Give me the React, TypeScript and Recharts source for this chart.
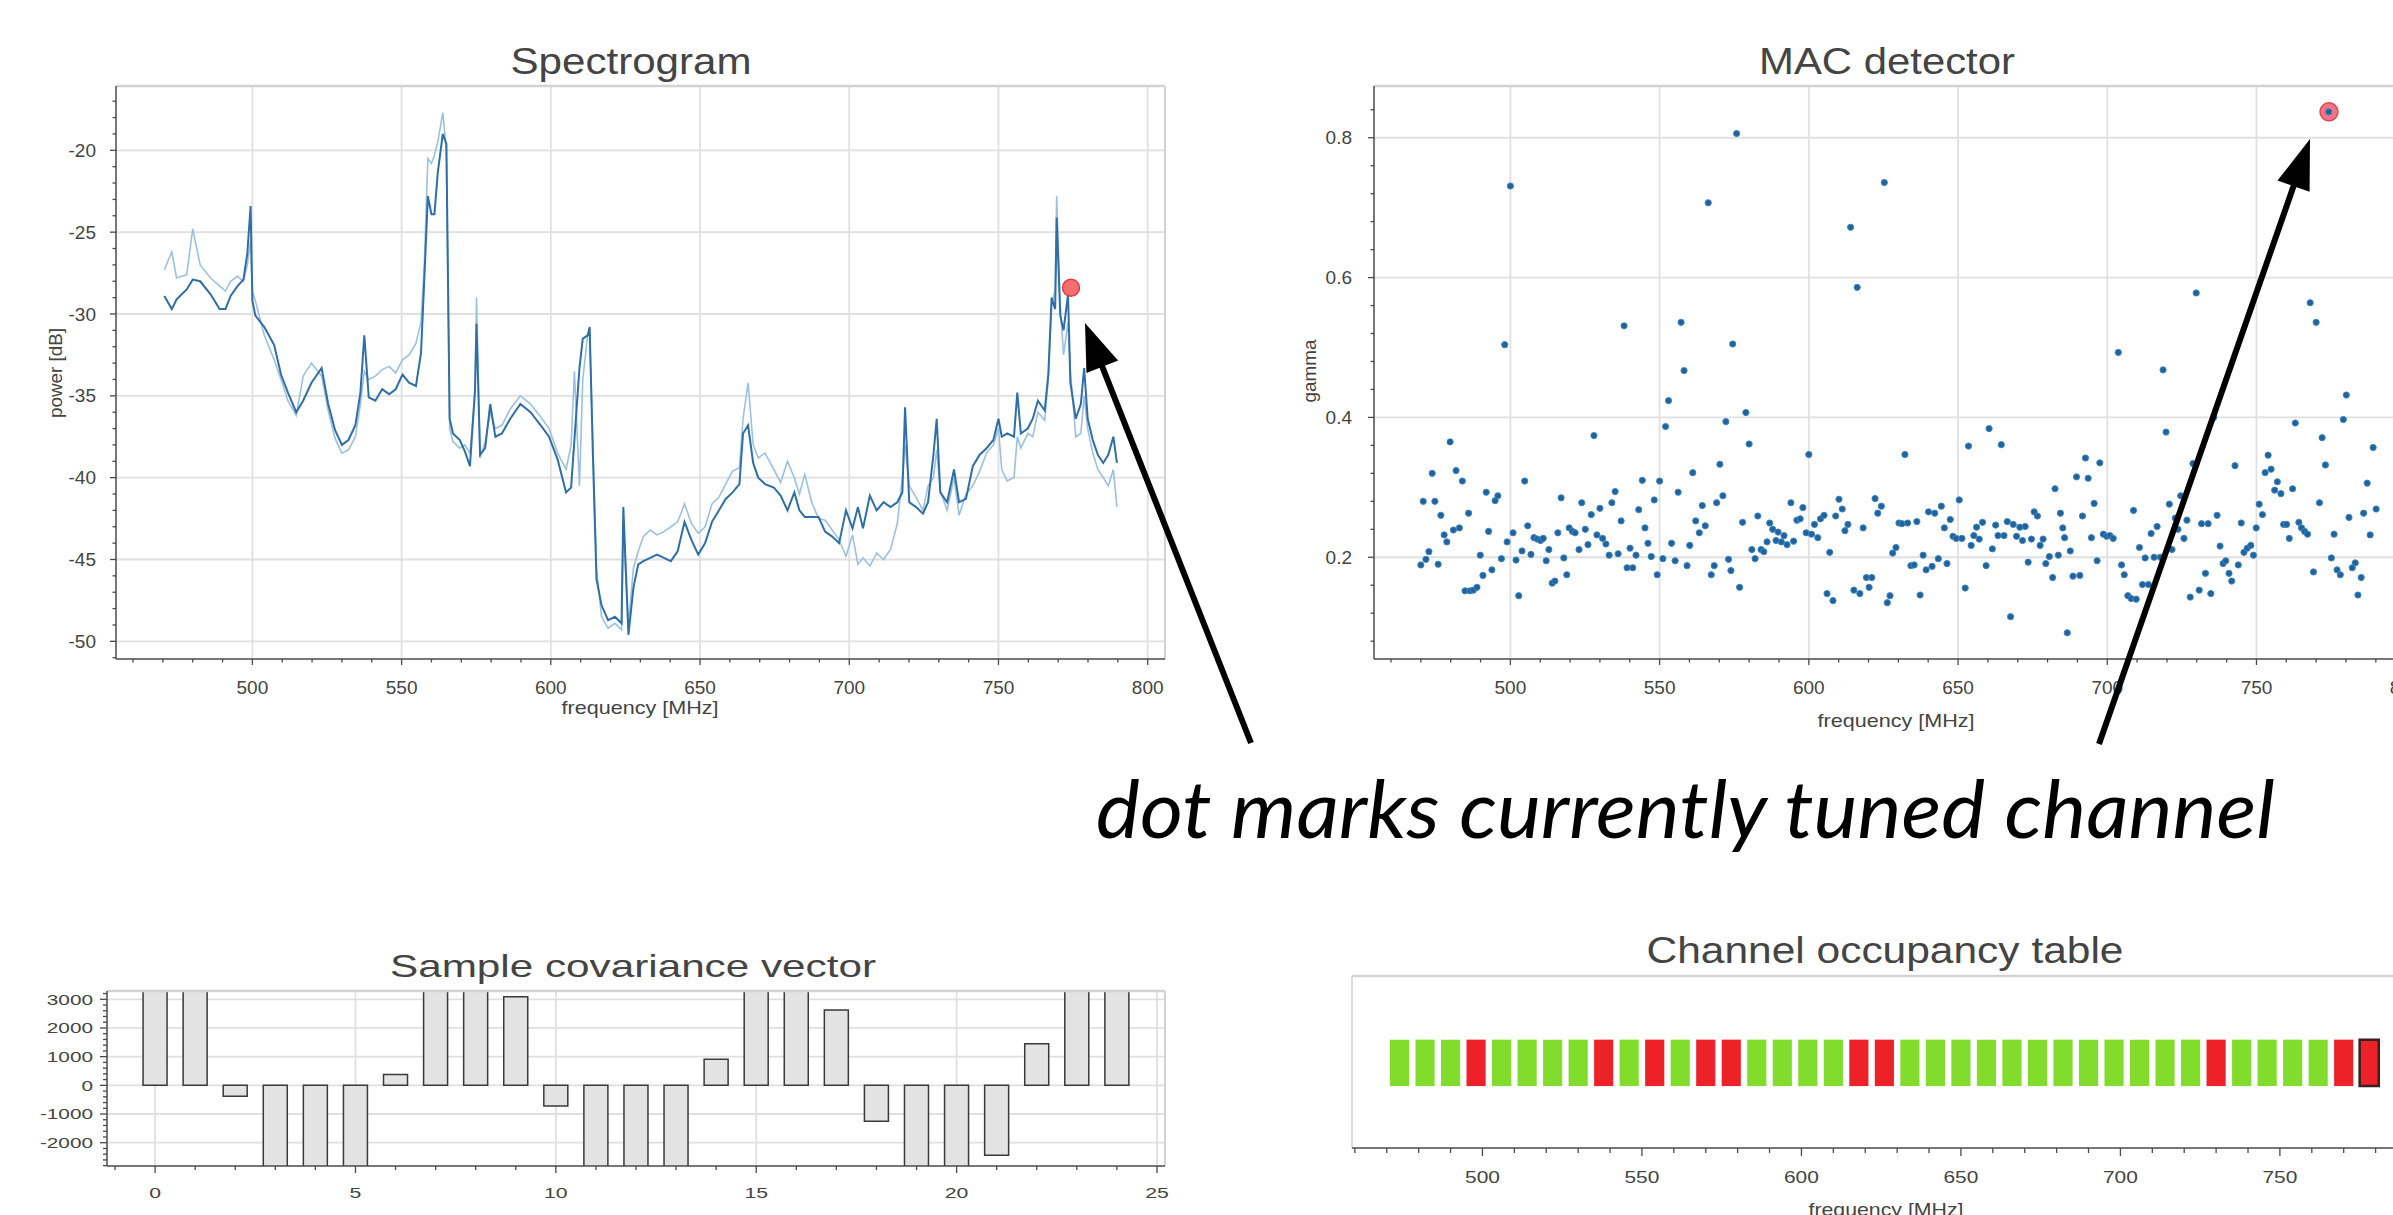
import React from 'react';
import {
  ComposedChart, ScatterChart, BarChart, Line, Scatter, Bar, XAxis, YAxis,
  ReferenceLine, ReferenceArea, CartesianGrid,
} from 'recharts';

// ---------------- DATA ----------------
// Spectrogram: frequency [MHz], current sweep and previous sweep [dB]
const specFreq = [
  470.5, 473, 474.6, 478, 480, 482.5, 486, 489, 491, 492.7,
  495, 497, 498.3, 499.4, 500, 501, 504, 507.3, 509.6, 511.9,
  514.7, 517, 519.8, 523.2, 525.4, 527.7, 530, 532.2, 534.5, 536.2,
  537.5, 539, 541.2, 543.5, 545.8, 548, 550.3, 552.5, 554.8, 556.5,
  557.6, 558.8, 560, 561, 562.1, 563.8, 565, 566.1, 567.2, 569.5,
  571.2, 572.9, 574.6, 575.1, 576.3, 578, 579.7, 581.4, 583.6, 586.4,
  589.8, 593.2, 596.6, 599.4, 602.3, 605.1, 606.8, 607.9, 609.6, 610.7,
  612.4, 613, 614.1, 615.3, 617, 619.2, 621.5, 623.7, 624.3, 626,
  627.7, 629.3, 631, 633.3, 635.6, 637.9, 640.2, 642.5, 644.8, 647.1,
  649.4, 651.7, 654, 656.3, 658.6, 660.9, 663.2, 664.4, 666.1, 667.8,
  669.5, 671.8, 674.7, 677, 679.3, 681.6, 683.3, 685.1, 687.4, 689.7,
  691.9, 694.3, 696.6, 698.9, 701.1, 702.9, 704.6, 706.9, 709.2, 711.5,
  713.8, 716.1, 717.8, 718.7, 720.1, 722.4, 724.7, 726.4, 728.2, 729.3,
  730.5, 732.8, 735.1, 736.8, 739.1, 741.4, 743.7, 746, 748.3, 750,
  751.1, 752.9, 755.2, 756.3, 757.5, 759.8, 761.5, 763.2, 765.5, 766.7,
  767.8, 769, 769.5, 770.7, 771.8, 773.3, 774.1, 775.9, 777.6, 778.7,
  779.9, 781.6, 783.3, 785.1, 786.8, 788.5, 789.7,
];
const specMain = [
  -28.9, -29.7, -29.1, -28.5, -27.9, -28.0, -28.8, -29.7, -29.7, -28.9,
  -28.3, -27.9, -26.3, -23.4, -29.2, -30.1, -30.8, -31.9, -33.7, -34.8,
  -36.0, -35.3, -34.2, -33.3, -35.5, -37.1, -38.0, -37.7, -36.8, -34.8,
  -31.3, -35.1, -35.3, -34.6, -34.9, -34.6, -33.7, -34.2, -34.4, -32.4,
  -27.9, -22.8, -23.9, -23.9, -21.4, -19.0, -19.6, -36.4, -37.3, -37.7,
  -38.4, -39.3, -34.6, -30.6, -38.6, -38.2, -35.5, -37.5, -37.3, -36.4,
  -35.5, -36.0, -36.8, -37.5, -38.9, -40.9, -40.6, -37.7, -33.3, -31.5,
  -31.3, -30.8, -38.6, -46.2, -47.8, -48.7, -48.5, -48.9, -41.8, -49.6,
  -46.7, -45.3, -45.1, -44.9, -44.7, -44.9, -45.1, -44.5, -42.7, -43.8,
  -44.7, -44.0, -42.7, -42.0, -41.3, -40.9, -40.4, -37.3, -36.8, -39.1,
  -40.0, -40.4, -40.6, -41.1, -42.0, -40.9, -42.0, -42.4, -42.4, -42.4,
  -43.3, -43.6, -44.0, -42.0, -43.1, -41.8, -43.1, -41.1, -42.0, -41.5,
  -41.8, -41.5, -40.9, -35.7, -41.5, -41.8, -42.2, -41.5, -38.6, -36.4,
  -40.9, -41.5, -39.5, -41.5, -41.3, -39.3, -38.6, -38.2, -37.7, -36.4,
  -37.5, -37.3, -37.5, -34.8, -37.3, -37.0, -36.4, -35.3, -35.9, -33.7,
  -29.0, -29.7, -24.1, -30.1, -31.0, -28.8, -34.2, -36.4, -35.5, -33.3,
  -36.4, -37.7, -38.6, -39.1, -38.6, -37.5, -39.1,
];
const specPrev = [
  -27.3, -26.2, -27.8, -27.6, -24.8, -27.0, -27.8, -28.3, -28.6, -28.0,
  -27.7, -28.0, -27.0, -25.5, -28.6, -29.2, -31.3, -32.8, -34.0, -35.3,
  -36.2, -33.8, -33.0, -33.8, -35.9, -37.6, -38.5, -38.3, -37.5, -35.5,
  -33.5, -34.0, -33.8, -33.4, -33.2, -33.6, -32.8, -32.5, -31.8, -30.5,
  -27.0, -20.5, -20.8, -20.3, -19.5, -17.7, -20.0, -37.0, -37.8, -38.2,
  -38.0, -38.5, -35.0, -29.0, -38.8, -37.8, -36.0, -37.0, -36.8, -35.8,
  -35.0, -35.5, -36.3, -37.0, -38.5, -39.5, -38.0, -33.5, -40.5, -34.0,
  -31.2, -31.0, -38.0, -45.5, -48.5, -49.2, -48.9, -49.3, -43.0, -49.0,
  -45.5, -44.5, -43.6, -43.2, -43.5, -43.3, -43.0, -42.7, -41.6, -42.8,
  -43.4, -43.0, -41.6, -41.2, -40.4, -39.6, -39.4, -36.4, -34.2, -38.0,
  -38.8, -38.5, -39.5, -40.3, -39.0, -40.0, -41.0, -39.8, -41.5, -42.5,
  -42.6, -43.2, -43.8, -44.8, -43.5, -45.3, -44.9, -45.4, -44.6, -45.0,
  -44.4, -42.8, -40.0, -38.0, -40.5, -41.2, -42.0, -40.5, -40.0, -38.3,
  -40.8, -42.0, -40.0, -42.3, -41.0, -40.5, -39.6, -38.5, -38.0, -37.0,
  -39.5, -40.2, -40.0, -37.5, -38.2, -37.3, -37.5, -36.0, -36.5, -34.0,
  -29.5, -28.5, -22.8, -29.5, -32.5, -30.5, -33.5, -37.5, -37.3, -35.0,
  -37.0, -38.5, -39.5, -40.0, -40.5, -39.5, -41.8,
];

// Currently tuned channel marker
const tunedFreq = 774.3;
const tunedPower = -28.4;
const tunedGamma = 0.837;

// MAC detector: [frequency MHz, gamma]
const macPoints: [number, number][] = [
  [470.0,0.189],[470.8,0.280],[471.7,0.197],[472.7,0.208],[473.8,0.320],[474.7,0.280],[475.8,0.190],[476.7,0.260],[477.8,0.232],[478.7,0.222],
  [479.8,0.365],[480.9,0.239],[481.8,0.324],[482.9,0.242],[483.9,0.309],[484.8,0.152],[486.0,0.263],[486.5,0.152],[487.6,0.153],[488.8,0.157],
  [489.9,0.203],[490.8,0.174],[491.9,0.293],[492.7,0.237],[493.8,0.182],[494.9,0.281],[495.8,0.288],[497.0,0.198],[498.1,0.504],[498.9,0.222],
  [500.0,0.731],[500.9,0.235],[501.9,0.196],[502.8,0.145],[503.9,0.209],[504.8,0.309],[505.8,0.245],[506.9,0.204],[507.9,0.228],[509.0,0.226],
  [510.1,0.224],[511.0,0.227],[512.0,0.195],[512.9,0.211],[514.0,0.163],[514.9,0.166],[515.9,0.235],[517.0,0.285],[517.9,0.199],[518.9,0.175],
  [519.7,0.242],[520.8,0.237],[521.7,0.235],[523.0,0.211],[523.9,0.278],[525.1,0.240],[526.0,0.218],[527.1,0.261],[528.0,0.374],[529.0,0.232],
  [530.0,0.270],[530.9,0.227],[532.0,0.219],[533.1,0.203],[534.0,0.278],[535.1,0.294],[536.1,0.205],[537.1,0.252],[538.1,0.531],[539.1,0.185],
  [540.1,0.213],[541.0,0.185],[542.1,0.203],[543.0,0.268],[544.2,0.310],[545.1,0.242],[546.1,0.220],[547.2,0.201],[548.2,0.282],[549.2,0.175],
  [550.0,0.309],[551.1,0.198],[552.0,0.387],[553.0,0.424],[554.0,0.220],[555.2,0.195],[556.2,0.293],[557.2,0.536],[558.2,0.467],[559.2,0.188],
  [560.1,0.217],[561.1,0.321],[562.1,0.252],[563.3,0.235],[564.3,0.274],[565.3,0.245],[566.3,0.707],[567.3,0.175],[568.3,0.188],[569.1,0.278],
  [570.2,0.333],[571.2,0.288],[572.2,0.394],[573.1,0.197],[573.9,0.181],[574.5,0.505],[575.8,0.806],[576.8,0.157],[577.8,0.250],[578.9,0.407],
  [580.0,0.362],[580.9,0.211],[582.0,0.198],[582.9,0.259],[584.0,0.211],[584.9,0.208],[586.0,0.222],[586.9,0.249],[587.9,0.240],[589.0,0.224],
  [589.7,0.236],[590.8,0.222],[591.7,0.231],[592.7,0.218],[594.0,0.278],[594.9,0.223],[596.0,0.253],[597.1,0.255],[598.0,0.271],[599.1,0.235],
  [600.0,0.347],[600.9,0.233],[601.9,0.247],[603.0,0.228],[603.9,0.255],[605.1,0.260],[606.1,0.148],[607.0,0.207],[608.1,0.138],[609.0,0.259],
  [610.1,0.283],[611.2,0.269],[612.1,0.238],[613.1,0.247],[614.0,0.672],[615.1,0.153],[616.2,0.586],[617.1,0.148],[618.2,0.242],[619.3,0.171],
  [620.2,0.157],[621.1,0.171],[622.2,0.284],[623.1,0.263],[624.3,0.273],[625.3,0.736],[626.3,0.135],[627.2,0.145],[628.1,0.206],[629.2,0.214],
  [630.2,0.249],[631.2,0.248],[632.2,0.347],[633.1,0.249],[634.2,0.188],[635.3,0.189],[636.2,0.251],[637.3,0.146],[638.3,0.203],[639.3,0.182],
  [640.1,0.265],[641.3,0.187],[642.2,0.263],[643.4,0.198],[644.4,0.273],[645.4,0.242],[646.3,0.191],[647.4,0.254],[648.3,0.230],[649.4,0.227],
  [650.4,0.282],[651.3,0.227],[652.4,0.156],[653.5,0.359],[654.4,0.217],[655.3,0.231],[656.2,0.243],[657.1,0.226],[658.2,0.250],[659.4,0.188],
  [660.4,0.384],[661.5,0.212],[662.6,0.246],[663.4,0.231],[664.5,0.361],[665.4,0.231],[666.5,0.251],[667.6,0.115],[668.5,0.247],[669.6,0.230],
  [670.7,0.243],[671.6,0.224],[672.5,0.244],[673.5,0.193],[674.6,0.226],[675.5,0.265],[676.6,0.259],[677.5,0.217],[678.5,0.226],[679.4,0.191],
  [680.6,0.201],[681.7,0.171],[682.5,0.298],[683.6,0.203],[684.3,0.263],[685.1,0.242],[685.7,0.228],[686.6,0.092],[687.6,0.209],[688.5,0.173],
  [689.7,0.315],[690.8,0.174],[691.7,0.259],[692.7,0.342],[693.6,0.313],[694.7,0.228],[695.6,0.277],[696.6,0.195],[697.5,0.335],[698.7,0.233],
  [699.8,0.230],[700.9,0.231],[702.0,0.227],[703.7,0.493],[704.8,0.189],[705.7,0.175],[706.9,0.145],[708.0,0.141],[708.8,0.267],[709.7,0.140],
  [710.8,0.214],[711.8,0.161],[712.7,0.199],[713.8,0.161],[714.7,0.234],[715.7,0.200],[716.7,0.244],[717.8,0.200],[718.7,0.468],[719.7,0.379],
  [720.8,0.276],[721.7,0.211],[722.8,0.256],[723.7,0.240],[724.6,0.288],[725.7,0.227],[726.7,0.253],[727.8,0.143],[728.7,0.334],[729.8,0.578],
  [730.8,0.153],[731.6,0.248],[732.9,0.177],[733.8,0.248],[734.7,0.148],[735.7,0.400],[736.8,0.260],[737.8,0.216],[738.8,0.191],[739.7,0.195],
  [740.8,0.177],[741.7,0.166],[742.8,0.331],[743.9,0.189],[744.9,0.249],[745.8,0.207],[746.9,0.213],[748.1,0.217],[749.0,0.203],[749.9,0.242],
  [750.9,0.276],[752.0,0.261],[752.9,0.321],[753.9,0.346],[754.9,0.326],[756.1,0.296],[757.0,0.308],[758.2,0.291],[759.1,0.247],[760.1,0.247],
  [761.0,0.227],[762.1,0.298],[763.0,0.392],[764.2,0.250],[765.1,0.242],[766.1,0.237],[767.1,0.233],[768.0,0.564],[769.1,0.179],[770.0,0.536],
  [771.1,0.278],[772.0,0.371],[773.1,0.332],[774.2,0.837],[775.1,0.199],[776.0,0.233],[777.0,0.182],[778.1,0.175],[779.1,0.397],[780.1,0.432],
  [781.0,0.257],[782.1,0.185],[783.1,0.192],[784.0,0.146],[785.1,0.171],[785.9,0.263],[787.1,0.306],[788.1,0.232],[789.1,0.357],[790.1,0.269],
];

// Sample covariance vector
const covLags = [0, 1, 2, 3, 4, 5, 6, 7, 8, 9, 10, 11, 12, 13, 14, 15, 16, 17, 18, 19, 20, 21, 22, 23, 24];
const covValues = [5400, 4800, -380, -4600, -5200, -4400, 380, 5600, 4500, 3090, -720, -4900, -5300, -4100, 910, 4700, 5800, 2630, -1250, -3900, -4700, -2440, 1450, 5100, 4300];

// Channel occupancy table (8 MHz channels starting at 470 MHz)
const channelStart = [470, 478, 486, 494, 502, 510, 518, 526, 534, 542, 550, 558, 566, 574, 582, 590, 598, 606, 614, 622, 630, 638, 646, 654, 662, 670, 678, 686, 694, 702, 710, 718, 726, 734, 742, 750, 758, 766, 774];
const channelOccupied = [0, 0, 0, 1, 0, 0, 0, 0, 1, 0, 1, 0, 1, 1, 0, 0, 0, 0, 1, 1, 0, 0, 0, 0, 0, 0, 0, 0, 0, 0, 0, 0, 1, 0, 0, 0, 0, 1, 1];
const tunedChannel = 774;

// Tick labels
const freqMajorTicks = [500, 550, 600, 650, 700, 750, 800];
const powerMajorTicks = [-50, -45, -40, -35, -30, -25, -20];
const gammaMajorTicks = [0.2, 0.4, 0.6, 0.8];
const lagMajorTicks = [0, 5, 10, 15, 20, 25];
const covMajorTicks = [-2000, -1000, 0, 1000, 2000, 3000];

// ---------------- STYLE / HELPERS ----------------
const FONT = '"Liberation Sans", Arial, Helvetica, sans-serif';
const TXT = '#444444';
const GRID = '#e0e0e0';
const FRAME = '#d2d2d2';
const AXIS = { stroke: '#4a4a4a', strokeWidth: 1.5 };

const range = (a: number, b: number, step: number) => {
  const out: number[] = [];
  const n = Math.round((b - a) / step);
  for (let i = 0; i <= n; i++) out.push(+(a + i * step).toFixed(4));
  return out;
};

const CW: Record<string, number> = { '-': 0.333, '.': 0.278 };
const textW = (s: string, fs: number) => {
  let w = 0;
  for (const c of s) w += CW[c] ?? 0.556;
  return w * fs;
};

type TickOpts = {
  side: 'bottom' | 'left';
  majors: number[];
  fmt: (v: number) => string;
  fs: number;
  stretch: number;
  majorLen: number;
  minorLen: number;
  off: number;
};

const makeTick = (o: TickOpts) => (props: any) => {
  const { x, y, payload } = props;
  const v = Number(payload.value);
  const major = o.majors.some((m) => Math.abs(m - v) < 1e-6);
  const len = major ? o.majorLen : o.minorLen;
  const label = major ? o.fmt(v) : '';
  const tl = label ? textW(label, o.fs) * o.stretch : 0;
  if (o.side === 'bottom') {
    return (
      <g>
        <line x1={x} y1={y} x2={x} y2={y + len} stroke="#4a4a4a" strokeWidth={1.3} />
        {label ? (
          <text x={x} y={y + o.off} textAnchor="middle" fontSize={o.fs} fill={TXT} fontFamily={FONT}
            textLength={tl} lengthAdjust="spacingAndGlyphs">{label}</text>
        ) : null}
      </g>
    );
  }
  return (
    <g>
      <line x1={x} y1={y} x2={x - len} y2={y} stroke="#4a4a4a" strokeWidth={1.3} />
      {label ? (
        <text x={x - o.off} y={y} dy="0.35em" textAnchor="end" fontSize={o.fs} fill={TXT} fontFamily={FONT}
          textLength={tl} lengthAdjust="spacingAndGlyphs">{label}</text>
      ) : null}
    </g>
  );
};

const fmtInt = (v: number) => String(Math.round(v));

// Domains
const FREQ_DOMAIN: [number, number] = [454.3, 805.8];
const POWER_DOMAIN: [number, number] = [-51.08, -16.07];
const GAMMA_DOMAIN: [number, number] = [0.0545, 0.874];
const LAG_DOMAIN: [number, number] = [-1.2, 25.2];
const COV_DOMAIN: [number, number] = [-2812, 3289];
const OCC_DOMAIN: [number, number] = [459.1, 819.0];

const specRows = specFreq.map((f, i) => ({ f, main: specMain[i], prev: specPrev[i] }));
const specTunedRows = [{ f: tunedFreq, p: tunedPower }];
const macRows = macPoints.map(([f, g]) => ({ f, g }));
const macTunedRows = [{ f: tunedFreq, g: tunedGamma }];
const covRows = covLags.map((lag, i) => ({ lag, v: covValues[i] }));
const occRows = channelStart.map((s) => ({ f: s + 4, y: 0.5 }));

const freqTickX = makeTick({ side: 'bottom', majors: freqMajorTicks, fmt: fmtInt, fs: 19, stretch: 1.0, majorLen: 6, minorLen: 3.5, off: 35 });
const powerTick = makeTick({ side: 'left', majors: powerMajorTicks, fmt: fmtInt, fs: 19, stretch: 1.0, majorLen: 6, minorLen: 3.5, off: 20 });
const gammaTick = makeTick({ side: 'left', majors: gammaMajorTicks, fmt: (v) => v.toFixed(1), fs: 19, stretch: 1.0, majorLen: 6, minorLen: 3.5, off: 22 });
const lagTick = makeTick({ side: 'bottom', majors: lagMajorTicks, fmt: fmtInt, fs: 15.5, stretch: 1.37, majorLen: 7, minorLen: 4, off: 32 });
const covTick = makeTick({ side: 'left', majors: covMajorTicks, fmt: fmtInt, fs: 15.5, stretch: 1.34, majorLen: 7, minorLen: 4, off: 14 });
const occTick = makeTick({ side: 'bottom', majors: freqMajorTicks, fmt: fmtInt, fs: 17, stretch: 1.23, majorLen: 8, minorLen: 5, off: 35 });

const redDotSpec = (p: any) => (
  <circle cx={p.cx} cy={p.cy} r={8.5} fill="#f25f5f" fillOpacity={0.9} stroke="#e23a3a" strokeWidth={1.5} />
);
const redDotMac = (p: any) => (
  <circle cx={p.cx} cy={p.cy} r={9} fill="#ef6677" fillOpacity={0.9} stroke="#e04458" strokeWidth={1.5} />
);
const blueDot = (p: any) => (
  <circle cx={p.cx} cy={p.cy} r={3.1} fill="#22629a" stroke="#3d86c4" strokeWidth={1} />
);
const noShape = () => <g />;

function Arrow({ tail, tip, headLen, half, w }: { tail: [number, number]; tip: [number, number]; headLen: number; half: number; w: number }) {
  const dx = tip[0] - tail[0];
  const dy = tip[1] - tail[1];
  const L = Math.hypot(dx, dy);
  const ux = dx / L, uy = dy / L;
  const bx = tip[0] - ux * headLen, by = tip[1] - uy * headLen;
  const px = -uy, py = ux;
  const pts = `${tip[0]},${tip[1]} ${bx + px * half},${by + py * half} ${bx - px * half},${by - py * half}`;
  return (
    <g>
      <line x1={tail[0]} y1={tail[1]} x2={bx + ux * 2} y2={by + uy * 2} stroke="#000" strokeWidth={w} />
      <polygon points={pts} fill="#000" />
    </g>
  );
}

export default function App() {
  return (
    <div style={{ position: 'fixed', left: 0, top: 0, width: 2393, height: 1215, overflow: 'hidden', background: '#fff' }}>
      {/* Spectrogram */}
      <div style={{ position: 'absolute', left: 0, top: 0 }}>
        <ComposedChart width={1200} height={760} data={specRows} margin={{ top: 86, right: 35, bottom: 0, left: 0 }}>
          <CartesianGrid stroke={GRID} strokeWidth={1.8} verticalValues={freqMajorTicks} horizontalValues={powerMajorTicks} />
          <ReferenceLine y={POWER_DOMAIN[1]} stroke={FRAME} strokeWidth={2.5} />
          <ReferenceLine x={FREQ_DOMAIN[1]} stroke={FRAME} strokeWidth={2} />
          <XAxis dataKey="f" type="number" domain={FREQ_DOMAIN} allowDataOverflow ticks={range(460, 800, 10)} interval={0}
            tickSize={0} tickMargin={0} tickLine={false} axisLine={AXIS} tick={freqTickX} height={101} />
          <YAxis type="number" domain={POWER_DOMAIN} allowDataOverflow ticks={range(-51, -17, 1)} interval={0}
            tickSize={0} tickMargin={0} tickLine={false} axisLine={AXIS} tick={powerTick} width={116} />
          <Line dataKey="prev" type="linear" stroke="#9cc1e0" strokeWidth={1.6} dot={false} activeDot={false} isAnimationActive={false} />
          <Line dataKey="main" type="linear" stroke="#2f6fa7" strokeWidth={2} dot={false} activeDot={false} isAnimationActive={false} />
          <Scatter data={specTunedRows} dataKey="p" shape={redDotSpec} isAnimationActive={false} />
        </ComposedChart>
      </div>

      {/* MAC detector */}
      <div style={{ position: 'absolute', left: 1250, top: 0 }}>
        <ScatterChart width={1250} height={760} margin={{ top: 86, right: 77, bottom: 0, left: 0 }}>
          <CartesianGrid stroke={GRID} strokeWidth={1.8} verticalValues={freqMajorTicks} horizontalValues={gammaMajorTicks} />
          <ReferenceLine y={GAMMA_DOMAIN[1]} stroke={FRAME} strokeWidth={2.5} />
          <XAxis dataKey="f" type="number" domain={FREQ_DOMAIN} allowDataOverflow ticks={range(460, 800, 10)} interval={0}
            tickSize={0} tickMargin={0} tickLine={false} axisLine={AXIS} tick={freqTickX} height={101} />
          <YAxis dataKey="g" type="number" domain={GAMMA_DOMAIN} allowDataOverflow ticks={range(0.08, 0.84, 0.04)} interval={0}
            tickSize={0} tickMargin={0} tickLine={false} axisLine={AXIS} tick={gammaTick} width={124} />
          <Scatter data={macTunedRows} shape={redDotMac} isAnimationActive={false} />
          <Scatter data={macRows} shape={blueDot} isAnimationActive={false} />
        </ScatterChart>
      </div>

      {/* Sample covariance vector */}
      <div style={{ position: 'absolute', left: 0, top: 900 }}>
        <BarChart width={1200} height={315} data={covRows} margin={{ top: 91, right: 35, bottom: 0, left: 0 }}>
          <CartesianGrid stroke={GRID} strokeWidth={1.8} verticalValues={lagMajorTicks} horizontalValues={covMajorTicks} />
          <ReferenceLine y={COV_DOMAIN[1]} stroke={FRAME} strokeWidth={2.5} />
          <ReferenceLine x={LAG_DOMAIN[1]} stroke={FRAME} strokeWidth={2} />
          <XAxis dataKey="lag" type="number" domain={LAG_DOMAIN} allowDataOverflow ticks={range(-1, 25, 1)} interval={0}
            tickSize={0} tickMargin={0} tickLine={false} axisLine={AXIS} tick={lagTick} height={49} />
          <YAxis type="number" domain={COV_DOMAIN} allowDataOverflow ticks={range(-2800, 3200, 200)} interval={0}
            tickSize={0} tickMargin={0} tickLine={false} axisLine={AXIS} tick={covTick} width={107} />
          <Bar dataKey="v" barSize={24} fill="#e3e3e3" stroke="#3a3a3a" strokeWidth={1.5} isAnimationActive={false} />
        </BarChart>
      </div>

      {/* Channel occupancy table */}
      <div style={{ position: 'absolute', left: 1300, top: 900 }}>
        <ComposedChart width={1200} height={315} data={occRows} margin={{ top: 76, right: 0, bottom: 0, left: 52 }}>
          <ReferenceLine y={1} stroke={FRAME} strokeWidth={2.5} />
          <ReferenceLine x={OCC_DOMAIN[0]} stroke={FRAME} strokeWidth={1.5} />
          <XAxis dataKey="f" type="number" domain={OCC_DOMAIN} allowDataOverflow ticks={range(460, 810, 10)} interval={0}
            tickSize={0} tickMargin={0} tickLine={false} axisLine={AXIS} tick={occTick} height={67} />
          <YAxis type="number" domain={[0, 1]} hide />
          {channelStart.map((s, i) => (
            <ReferenceArea key={s} x1={s + 1} x2={s + 7} y1={0.36} y2={0.63}
              fill={channelOccupied[i] ? '#ec2228' : '#82dc2c'} fillOpacity={1}
              stroke={s === tunedChannel ? '#3a2020' : 'none'} strokeWidth={s === tunedChannel ? 2.5 : 0} />
          ))}
          <Scatter data={occRows} dataKey="y" shape={noShape} isAnimationActive={false} />
        </ComposedChart>
      </div>

      {/* Titles, axis labels, annotation */}
      <svg width={2393} height={1215} style={{ position: 'absolute', left: 0, top: 0, pointerEvents: 'none' }}>
        <g fontFamily={FONT} fill={TXT}>
          <text x={631} y={74} textAnchor="middle" fontSize={37} textLength={241} lengthAdjust="spacingAndGlyphs">Spectrogram</text>
          <text x={1887} y={74} textAnchor="middle" fontSize={37} textLength={256} lengthAdjust="spacingAndGlyphs">MAC detector</text>
          <text x={640} y={714} textAnchor="middle" fontSize={19} textLength={157} lengthAdjust="spacingAndGlyphs">frequency [MHz]</text>
          <text x={1896} y={727} textAnchor="middle" fontSize={19} textLength={157} lengthAdjust="spacingAndGlyphs">frequency [MHz]</text>
          <text x={0} y={0} transform="translate(62,373) rotate(-90)" textAnchor="middle" fontSize={19} textLength={90} lengthAdjust="spacingAndGlyphs">power [dB]</text>
          <text x={0} y={0} transform="translate(1316,371) rotate(-90)" textAnchor="middle" fontSize={19} textLength={63} lengthAdjust="spacingAndGlyphs">gamma</text>
          <text x={633} y={977} textAnchor="middle" fontSize={32} textLength={486} lengthAdjust="spacingAndGlyphs">Sample covariance vector</text>
          <text x={1885} y={963} textAnchor="middle" fontSize={37} textLength={477} lengthAdjust="spacingAndGlyphs">Channel occupancy table</text>
          <text x={1886} y={1216} textAnchor="middle" fontSize={19} textLength={155} lengthAdjust="spacingAndGlyphs">frequency [MHz]</text>
        </g>
        <text x={1096} y={838} fontFamily='Lato, "Open Sans", sans-serif' fontStyle="italic" fontSize={80} fill="#000"
          textLength={1179} lengthAdjust="spacingAndGlyphs">dot marks currently tuned channel</text>
        <Arrow tail={[1251, 743]} tip={[1085, 323]} headLen={47} half={17} w={6} />
        <Arrow tail={[2099, 744]} tip={[2310, 139]} headLen={50} half={17} w={6} />
      </svg>
    </div>
  );
}
